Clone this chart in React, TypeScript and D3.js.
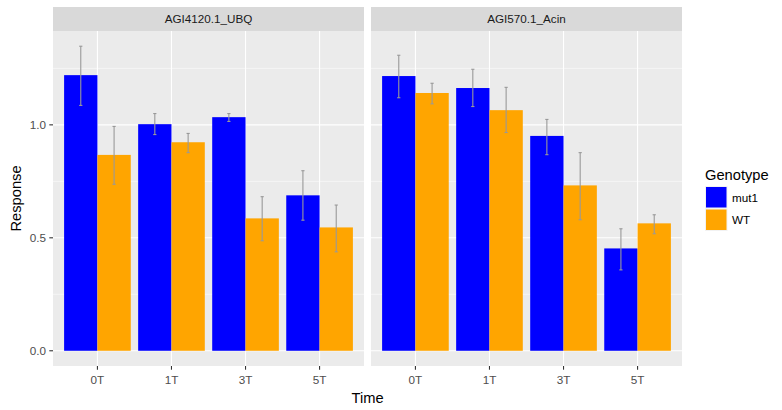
import * as d3 from "d3";

const times = ["0T", "1T", "3T", "5T"];
const genotypes = ["mut1", "WT"];
const genes = ["AGI4120.1_UBQ", "AGI570.1_Acin"];
const genotypeColors = ["#0000FF", "#FFA500"];

// means and error bar limits, [gene][genotype][time]
const means = [
  [
    [1.22, 1.003, 1.034, 0.688],
    [0.867, 0.923, 0.586, 0.546],
  ],
  [
    [1.216, 1.163, 0.951, 0.453],
    [1.141, 1.065, 0.732, 0.564],
  ],
];
const lowers = [
  [
    [1.086, 0.957, 1.015, 0.578],
    [0.737, 0.877, 0.487, 0.438],
  ],
  [
    [1.12, 1.081, 0.868, 0.358],
    [1.093, 0.966, 0.58, 0.518],
  ],
];
const uppers = [
  [
    [1.348, 1.05, 1.05, 0.797],
    [0.993, 0.962, 0.682, 0.645],
  ],
  [
    [1.308, 1.246, 1.024, 0.54],
    [1.184, 1.166, 0.877, 0.602],
  ],
];
const yTicks = [0, 0.5, 1.0];
const yMinor = [0.25, 0.75, 1.25];

const W = 782;
const H = 410;
const panels = [
  { x0: 53, x1: 364 },
  { x0: 371, x1: 682 },
];
const plotTop = 31;
const plotBottom = 366;
const stripTop = 7;
const font = "Liberation Sans, Arial, sans-serif";

export default function App() {
  const maxHi = d3.max(uppers.flat(2)) ?? 1;
  const pad = maxHi * 0.05;
  const y = d3.scaleLinear().domain([-pad, maxHi + pad]).range([plotBottom, plotTop]);

  return (
    <svg
      width={W}
      height={H}
      style={{ position: "absolute", left: 0, top: 0, background: "#fff" }}
      fontFamily={font}
    >
      {genes.map((gene, gi) => {
        const { x0, x1 } = panels[gi];
        const x = d3.scalePoint<string>().domain(times).range([x0, x1]).padding(0.6);
        const step = x.step();
        const dodge = d3
          .scaleBand<string>()
          .domain(genotypes)
          .range([-0.45 * step, 0.45 * step]);
        return (
          <g key={gene}>
            <rect x={x0} y={stripTop} width={x1 - x0} height={plotTop - stripTop} fill="#D9D9D9" />
            <text
              x={(x0 + x1) / 2}
              y={(stripTop + plotTop) / 2 + 4}
              textAnchor="middle"
              fontSize={11.7}
              fill="#1A1A1A"
            >
              {gene}
            </text>
            <rect x={x0} y={plotTop} width={x1 - x0} height={plotBottom - plotTop} fill="#EBEBEB" />
            {yMinor.map((v) => (
              <line key={v} x1={x0} x2={x1} y1={y(v)} y2={y(v)} stroke="#fff" strokeWidth={0.55} />
            ))}
            {yTicks.map((v) => (
              <line key={v} x1={x0} x2={x1} y1={y(v)} y2={y(v)} stroke="#fff" strokeWidth={1.1} />
            ))}
            {times.map((t) => (
              <line key={t} x1={x(t)} x2={x(t)} y1={plotTop} y2={plotBottom} stroke="#fff" strokeWidth={1.1} />
            ))}
            {genotypes.map((g, k) =>
              times.map((t, ti) => {
                const bx = (x(t) ?? 0) + (dodge(g) ?? 0);
                const bw = dodge.bandwidth();
                const v = means[gi][k][ti];
                return (
                  <rect
                    key={g + t}
                    x={bx}
                    y={y(v)}
                    width={bw}
                    height={y(0) - y(v)}
                    fill={genotypeColors[k]}
                  />
                );
              })
            )}
            {genotypes.map((g, k) =>
              times.map((t, ti) => {
                const cx = (x(t) ?? 0) + (dodge(g) ?? 0) + dodge.bandwidth() / 2;
                const lo = y(lowers[gi][k][ti]);
                const hi = y(uppers[gi][k][ti]);
                return (
                  <g key={"e" + g + t} stroke="#999999" strokeWidth={1.1}>
                    <line x1={cx} x2={cx} y1={lo} y2={hi} />
                    <line x1={cx - 1.6} x2={cx + 1.6} y1={lo} y2={lo} />
                    <line x1={cx - 1.6} x2={cx + 1.6} y1={hi} y2={hi} />
                  </g>
                );
              })
            )}
            {times.map((t) => (
              <g key={"xt" + t}>
                <line x1={x(t)} x2={x(t)} y1={plotBottom} y2={plotBottom + 3.7} stroke="#333" strokeWidth={1.1} />
                <text x={x(t)} y={plotBottom + 18} textAnchor="middle" fontSize={11.7} fill="#4D4D4D">
                  {t}
                </text>
              </g>
            ))}
          </g>
        );
      })}
      {yTicks.map((v) => (
        <g key={"yt" + v}>
          <line x1={panels[0].x0 - 3.7} x2={panels[0].x0} y1={y(v)} y2={y(v)} stroke="#333" strokeWidth={1.1} />
          <text x={panels[0].x0 - 7} y={y(v) + 4} textAnchor="end" fontSize={11.7} fill="#4D4D4D">
            {d3.format(".1f")(v)}
          </text>
        </g>
      ))}
      <text
        transform={`translate(21, ${(plotTop + plotBottom) / 2}) rotate(-90)`}
        textAnchor="middle"
        fontSize={14.7}
        fill="#000"
      >
        Response
      </text>
      <text x={(panels[0].x0 + panels[1].x1) / 2} y={403} textAnchor="middle" fontSize={14.7} fill="#000">
        Time
      </text>
      <g>
        <text x={705} y={180} fontSize={14.7} fill="#000">
          Genotype
        </text>
        {genotypes.map((g, k) => (
          <g key={g} transform={`translate(705, ${186 + k * 22.5})`}>
            <rect x={0} y={0} width={22.5} height={22.5} fill="#F2F2F2" />
            <rect x={1} y={1} width={20.5} height={20.5} fill={genotypeColors[k]} />
            <text x={27} y={15.5} fontSize={11.7} fill="#000">
              {g}
            </text>
          </g>
        ))}
      </g>
    </svg>
  );
}
